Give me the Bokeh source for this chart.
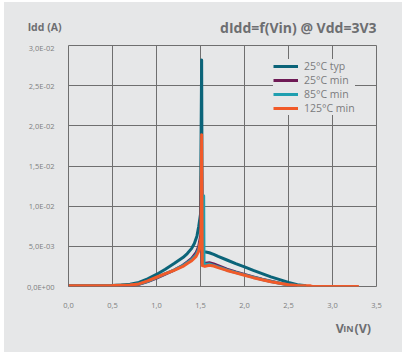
from bokeh.plotting import figure
from bokeh.layouts import column
from bokeh.models import (Legend, LegendItem, FixedTicker, CustomJSTickFormatter, Range1d,
                          LinearAxis)
from bokeh.core.properties import value
from bokeh.embed import file_html
from bokeh.resources import INLINE

# ---------------- data ----------------
series_names = ["25°C typ", "25°C min", "85°C min", "125°C min"]
series_colors = ["#0b6479", "#6e1a55", "#1f9fb0", "#f15a29"]

typ_x = [0.0, 0.5, 0.6, 0.7, 0.8, 0.9, 1.0, 1.1, 1.2, 1.3, 1.35, 1.4, 1.43, 1.46, 1.48, 1.5,
         1.513, 1.52, 1.56, 1.6, 1.65, 1.7, 1.8, 1.9, 2.0, 2.1, 2.2, 2.3, 2.4, 2.5, 2.6, 2.7]
typ_y = [1.0e-4, 1.2e-4, 1.8e-4, 2.8e-4, 5.0e-4, 9.5e-4, 1.5e-3, 2.15e-3, 2.85e-3, 3.6e-3, 4.1e-3,
         4.75e-3, 5.35e-3, 6.3e-3, 7.5e-3, 9.0e-3,
         2.82e-2, 4.3e-3, 4.3e-3, 4.2e-3, 4.0e-3, 3.75e-3, 3.3e-3, 2.85e-3, 2.45e-3, 2.0e-3, 1.6e-3,
         1.2e-3, 8.5e-4, 5.0e-4, 2.2e-4, 1.0e-4]

min25_x = [0.0, 0.5, 0.6, 0.7, 0.8, 0.9, 1.0, 1.1, 1.2, 1.3, 1.35, 1.4, 1.45, 1.48, 1.505,
           1.512, 1.52, 1.56, 1.6, 1.65, 1.7, 1.8, 1.9, 2.0, 2.1, 2.2, 2.3, 2.4, 2.5, 2.6]
min25_y = [8e-5, 9e-5, 1.0e-4, 1.5e-4, 2.6e-4, 6.0e-4, 1.05e-3, 1.55e-3, 2.05e-3, 2.65e-3, 3.05e-3,
           3.5e-3, 4.2e-3, 5.0e-3, 6.5e-3,
           1.5e-2, 2.9e-3, 2.9e-3, 2.95e-3, 2.8e-3, 2.6e-3, 2.15e-3, 1.8e-3, 1.5e-3, 1.2e-3, 9.0e-4,
           6.5e-4, 4.2e-4, 2.2e-4, 1.0e-4]

min85_x = [0.0, 0.5, 0.7, 0.8, 0.9, 1.0, 1.1, 1.2, 1.3, 1.4, 1.45, 1.48, 1.52,
           1.536, 1.54, 1.6, 1.7, 1.8, 1.9, 2.0, 2.1, 2.2, 2.3, 2.4, 2.5, 2.6, 2.7]
min85_y = [1.0e-4, 1.1e-4, 1.8e-4, 3.0e-4, 6.5e-4, 1.1e-3, 1.6e-3, 2.05e-3, 2.6e-3, 3.35e-3, 3.95e-3,
           4.7e-3, 6.5e-3,
           1.13e-2, 2.7e-3, 2.8e-3, 2.45e-3, 2.05e-3, 1.75e-3, 1.45e-3, 1.15e-3, 8.8e-4, 6.2e-4,
           4.1e-4, 2.2e-4, 1.1e-4, 5e-5]

min125_x = [0.0, 0.5, 0.6, 0.7, 0.8, 0.9, 1.0, 1.1, 1.2, 1.3, 1.35, 1.4, 1.45, 1.48, 1.505,
            1.513, 1.52, 1.55, 1.6, 1.65, 1.7, 1.8, 1.9, 2.0, 2.1, 2.2, 2.3, 2.4, 2.5, 2.6, 2.75,
            2.77, 3.3]
min125_y = [1.0e-4, 1.2e-4, 1.5e-4, 2.0e-4, 3.2e-4, 7.0e-4, 1.15e-3, 1.6e-3, 2.0e-3, 2.5e-3, 2.85e-3,
            3.2e-3, 3.75e-3, 4.4e-3, 6.0e-3,
            1.89e-2, 2.6e-3, 2.5e-3, 2.65e-3, 2.55e-3, 2.35e-3, 2.0e-3, 1.7e-3, 1.4e-3, 1.1e-3,
            8.5e-4, 6.0e-4, 4.0e-4, 2.2e-4, 1.3e-4, 8e-5,
            1e-5, 1e-5]

x_ticks = [0.0, 0.5, 1.0, 1.5, 2.0, 2.5, 3.0, 3.5]
x_tick_labels = ["0,0", "0,5", "1,0", "1,5", "2,0", "2,5", "3,0", "3,5"]
y_ticks = [0.0, 0.005, 0.01, 0.015, 0.02, 0.025, 0.03]
y_tick_labels = ["0,0E+00", "5,0E-03", "1,0E-02", "1,5E-02", "2,0E-02", "2,5E-02", "3,0E-02"]

title_text = "dIdd=f(Vin) @ Vdd=3V3"
y_title = "Idd (A)"
x_title_parts = ["V", "IN", "(V)"]

# ---------------- style ----------------
BG = "#e6e7e8"
GRID = "#6f6f6f"
TXT = "#6d6e71"
FONT = "Open Sans"
W = 398
BL, BR = 64, 26          # left / right borders shared by all three stacked figures


def strip(height, top, bottom):
    f = figure(width=W, height=height, output_backend="svg", toolbar_location=None,
               x_range=Range1d(0, 3.5), y_range=Range1d(0, 1),
               x_axis_type=None, y_axis_type=None,
               min_border_left=BL, min_border_right=BR,
               min_border_top=top, min_border_bottom=bottom)
    f.background_fill_color = BG
    f.border_fill_color = BG
    f.outline_line_color = None
    f.grid.visible = False
    return f


def put(f, x, y, t, size, align="left", baseline="middle"):
    f.text(x=[x], y=[y], text=[t], text_align=align, text_baseline=baseline,
           text_font=value(FONT), text_font_size=value(size), text_font_style="bold",
           text_color=TXT)


# top strip: chart title (right) and y quantity name (left, as a horizontal axis label)
top = strip(40, 10, 2)
put(top, 3.5, 0.46, title_text, "14px", align="right")
name_axis = LinearAxis(ticker=FixedTicker(ticks=[]), axis_label=y_title,
                       axis_label_orientation="horizontal", axis_label_standoff=7,
                       axis_label_text_font=FONT, axis_label_text_font_size="10.5px",
                       axis_label_text_font_style="bold", axis_label_text_color=TXT,
                       axis_line_color=None, major_tick_line_color=None,
                       minor_tick_line_color=None, major_tick_out=0, major_label_standoff=0,
                       major_label_text_font_size="0px")
top.add_layout(name_axis, "left")

# main chart
p = figure(width=W, height=268, output_backend="svg", toolbar_location=None,
           x_range=Range1d(0, 3.5), y_range=Range1d(0, 0.03),
           min_border_left=BL, min_border_right=BR, min_border_top=3, min_border_bottom=22)
p.background_fill_color = BG
p.border_fill_color = BG
p.outline_line_color = GRID
p.outline_line_width = 1

fmt_js = """
for (let i = 0; i < vals.length; i++) {
  if (Math.abs(vals[i] - tick) < 1e-9) { return labels[i]; }
}
return "";
"""
p.xaxis.ticker = FixedTicker(ticks=x_ticks)
p.yaxis.ticker = FixedTicker(ticks=y_ticks)
p.xaxis.formatter = CustomJSTickFormatter(args=dict(vals=x_ticks, labels=x_tick_labels), code=fmt_js)
p.yaxis.formatter = CustomJSTickFormatter(args=dict(vals=y_ticks, labels=y_tick_labels), code=fmt_js)
for ax in (p.xaxis[0], p.yaxis[0]):
    ax.axis_line_color = None
    ax.major_tick_line_color = None
    ax.minor_tick_line_color = None
    ax.major_label_text_font = FONT
    ax.major_label_text_font_size = "7.5px"
    ax.major_label_text_color = "#7d7e80"
p.yaxis.major_label_standoff = 8
p.xaxis.major_label_standoff = 10

p.xgrid.ticker = FixedTicker(ticks=x_ticks)
p.ygrid.ticker = FixedTicker(ticks=y_ticks)
for g in (p.xgrid[0], p.ygrid[0]):
    g.grid_line_color = GRID
    g.grid_line_width = 1
    g.grid_line_alpha = 1

xs = [typ_x, min25_x, min85_x, min125_x]
ys = [typ_y, min25_y, min85_y, min125_y]
renderers = []
for x, y, c in zip(xs, ys, series_colors):
    r = p.line(x, y, line_color=c, line_width=3, line_join="round")
    renderers.append(r)

legend = Legend(items=[LegendItem(label=n, renderers=[r]) for n, r in zip(series_names, renderers)],
                location=(205, 171), orientation="vertical")
legend.background_fill_color = BG
legend.background_fill_alpha = 1
legend.border_line_color = None
legend.label_text_font = FONT
legend.label_text_font_size = "10.5px"
legend.label_text_color = "#7a7b7d"
legend.glyph_width = 25
legend.glyph_height = 14
legend.label_height = 14
legend.label_standoff = 6
legend.spacing = 0
legend.padding = 5
legend.margin = 0
p.add_layout(legend)

# bottom strip: x quantity name "VIN (V)" with small-caps subscript
bottom = strip(42, 0, 0)
put(bottom, 3.037, 0.57, x_title_parts[0], "12.5px", baseline="alphabetic")
put(bottom, 3.123, 0.57, x_title_parts[1], "9px", baseline="alphabetic")
put(bottom, 3.25, 0.57, x_title_parts[2], "12.5px", baseline="alphabetic")

layout = column(top, p, bottom, spacing=0, margin=(2, 3, 1, 4),
                styles={"background-color": BG})

html = file_html(layout, INLINE)
open("out.html", "w").write(html)
